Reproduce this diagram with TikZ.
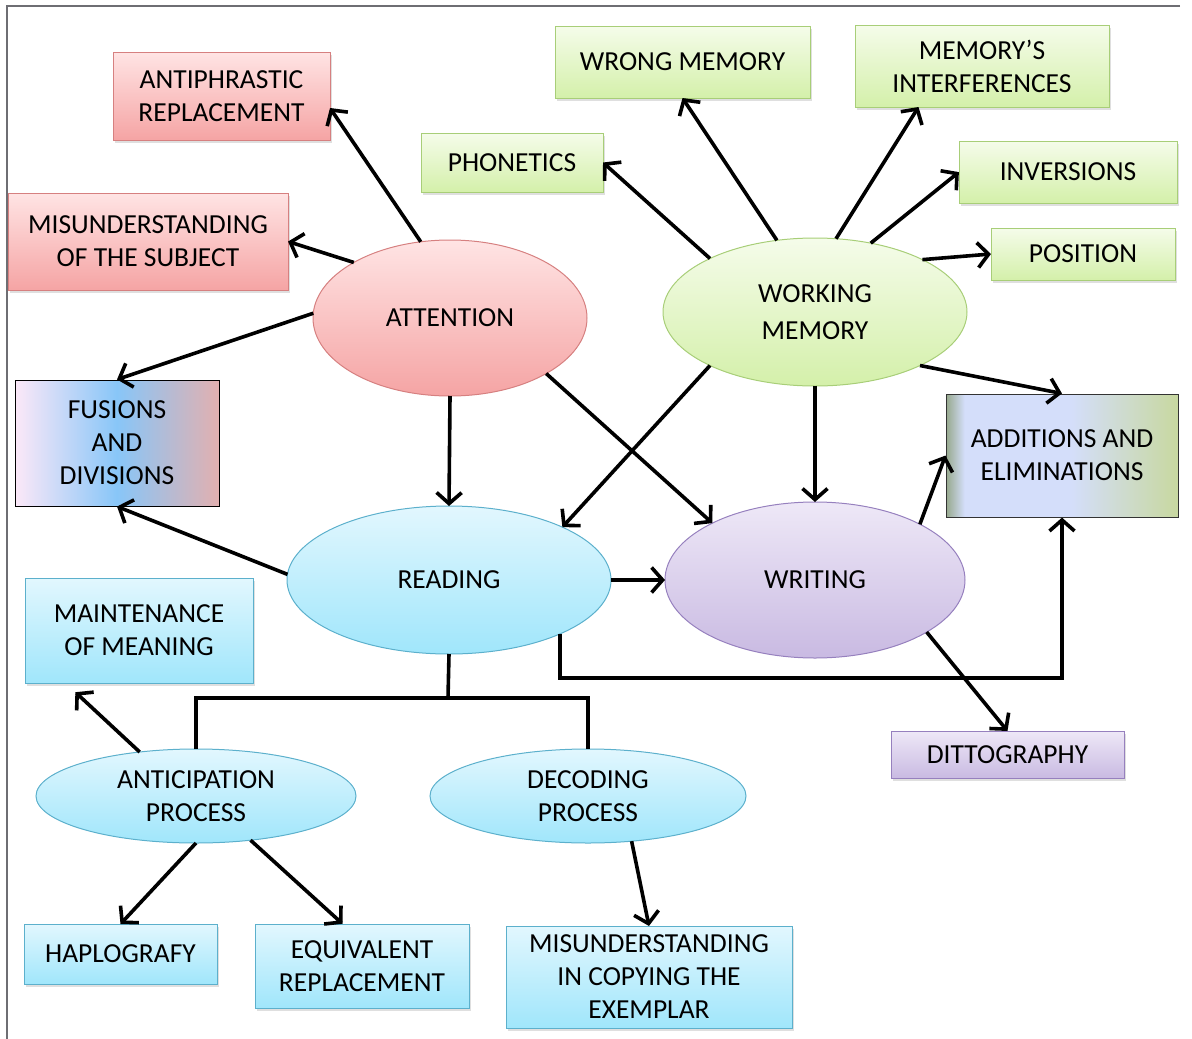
\documentclass[tikz,border=0pt]{standalone}
\usepackage{fontspec}
\setmainfont{Carlito}
\usepackage{xcolor}
\definecolor{redtop}{RGB}{255,228,228}
\definecolor{redbot}{RGB}{245,164,164}
\definecolor{redline}{RGB}{214,128,128}
\definecolor{greentop}{RGB}{245,252,234}
\definecolor{greenbot}{RGB}{212,240,170}
\definecolor{greenline}{RGB}{168,206,120}
\definecolor{cyantop}{RGB}{226,247,254}
\definecolor{cyanbot}{RGB}{160,230,251}
\definecolor{cyanline}{RGB}{92,176,204}
\definecolor{purptop}{RGB}{238,232,247}
\definecolor{purpbot}{RGB}{201,186,226}
\definecolor{purpline}{RGB}{150,128,190}
\definecolor{fusA}{RGB}{252,232,248}
\definecolor{fusB}{RGB}{136,198,248}
\definecolor{fusC}{RGB}{226,176,176}
\definecolor{addA}{RGB}{150,168,140}
\definecolor{addB}{RGB}{212,222,250}
\definecolor{addC}{RGB}{200,216,160}
\definecolor{frame}{RGB}{110,110,115}
\usetikzlibrary{positioning, calc, shapes.geometric, arrows.meta,
        decorations.markings, shadows}
\pgfdeclarehorizontalshading{addshade}{100bp}{color(0bp)=(addA); color(25bp)=(addA);
        color(29bp)=(addB); color(52bp)=(addB); color(75bp)=(addC); color(100bp)=(addC)}
\tikzstyle{Arrow} = [
line width=3.6pt,
decoration={
markings,
mark=at position 0.9999 with {
\arrow[line width=3.6pt]{Straight Barb[length=11pt,width=25pt]}}},
shorten >= 2pt, preaction = {decorate}]
\tikzstyle{Line} = [line width=3.6pt]
\tikzstyle{Box} = [rectangle, inner sep=0pt, outer sep=0pt, align=center,
line width=1pt,
drop shadow={shadow xshift=1.5pt, shadow yshift=-3pt, opacity=0.25}]
\tikzstyle{Oval} = [ellipse, inner sep=0pt, outer sep=0pt, align=center,
line width=1pt]
\tikzstyle{Red} = [draw=redline, top color=redtop, bottom color=redbot]
\tikzstyle{Green} = [draw=greenline, top color=greentop, bottom color=greenbot]
\tikzstyle{Cyan} = [draw=cyanline, top color=cyantop, bottom color=cyanbot]
\tikzstyle{Purple} = [draw=purpline, top color=purptop, bottom color=purpbot]

\begin{document}
\begin{tikzpicture}[x=1pt, y=-1pt, font=\fontsize{27.5}{33}\selectfont]
    \useasboundingbox (0,0) rectangle (1192,1039);
    \draw[frame, line width=1.2pt] (1180,6) -- (7,6) -- (7,1039);

    % main ovals
    \node[Oval, Red, minimum width=274pt, minimum height=156pt] (1) at (450,318) {ATTENTION};
    \node[Oval, Green, minimum width=304pt, minimum height=148pt] (2) at (815,312) {WORKING\\[4pt]MEMORY};
    \node[Oval, Cyan, minimum width=324pt, minimum height=148pt] (3) at (449,580) {READING};
    \node[Oval, Purple, minimum width=300pt, minimum height=156pt] (4) at (815,580) {WRITING};
    \node[Oval, Cyan, minimum width=320pt, minimum height=94pt] (5) at (196,796) {ANTICIPATION\\PROCESS};
    \node[Oval, Cyan, minimum width=316pt, minimum height=94pt] (6) at (588,796) {DECODING\\PROCESS};

    % boxes
    \node[Box, Red, minimum width=217pt, minimum height=88pt] (7) at (221.5,96) {ANTIPHRASTIC\\REPLACEMENT};
    \node[Box, Red, minimum width=280pt, minimum height=97pt] (8) at (148,241.5) {MISUNDERSTANDING\\OF THE SUBJECT};
    \node[rectangle, draw=black, line width=1pt, left color=fusA, right color=fusC, middle color=fusB,
        minimum width=204pt, minimum height=126pt, align=center] (9) at (117,443) {FUSIONS\\AND\\DIVISIONS};
    \node[Box, Green, minimum width=255pt, minimum height=72pt] (10) at (682.5,62) {WRONG MEMORY};
    \node[Box, Green, minimum width=254pt, minimum height=82pt] (11) at (982,66) {MEMORY'S\\INTERFERENCES};
    \node[Box, Green, minimum width=182pt, minimum height=59pt] (12) at (512,162.5) {PHONETICS};
    \node[Box, Green, minimum width=218pt, minimum height=62pt] (13) at (1068,172) {INVERSIONS};
    \node[Box, Green, minimum width=184pt, minimum height=52pt] (14) at (1083,254) {POSITION};
    \node[rectangle, draw=black!80, line width=1pt, shading=addshade,
        minimum width=232pt, minimum height=123pt, align=center] (15) at (1062,455.5) {ADDITIONS AND\\ELIMINATIONS};
    \node[Box, Cyan, minimum width=228pt, minimum height=105pt] (16) at (139,630.5) {MAINTENANCE\\OF MEANING};
    \node[Box, Purple, minimum width=233pt, minimum height=47pt] (17) at (1007.5,754.5) {DITTOGRAPHY};
    \node[Box, Cyan, minimum width=193pt, minimum height=60pt] (18) at (120.5,954) {HAPLOGRAFY};
    \node[Box, Cyan, minimum width=214pt, minimum height=84pt] (19) at (362,966) {EQUIVALENT\\REPLACEMENT};
    \node[Box, Cyan, minimum width=286pt, minimum height=102pt] (20) at (649,977) {MISUNDERSTANDING\\IN COPYING THE\\EXEMPLAR};

    \coordinate (c1) at (1062,678);
    \coordinate (c2) at (448,698);

    \draw[Arrow] (1.111) -- ($(7.east)+(0,12)$);
    \draw[Arrow] (1.150) -- (8.east);
    \draw[Arrow] (1.178) -- (9.north);
    \draw[Arrow] (1.south) -- (3.north);
    \draw[Arrow] (1.330) -- (4.151);
    \draw[Arrow] (2.153) -- (12.east);
    \draw[Arrow] (2.118) -- (10.south);
    \draw[Arrow] (2.74) -- ($(11.south west)!0.25!(11.south east)$);
    \draw[Arrow] (2.51) -- (13.west);
    \draw[Arrow] (2.26) -- (14.west);
    \draw[Arrow] (2.333) -- (15.north);
    \draw[Arrow] (2.207) -- (3.25);
    \draw[Arrow] (2.south) -- (4.north);
    \draw[Arrow] (3.178) -- (9.south);
    \draw[Arrow] (3.east) -- (4.west);
    \draw[Arrow] (4.28) -- (15.west);
    \draw[Arrow] (3.334) |- (c1) -- (15.south);
    \draw[Arrow] (4.335) -- (17.north);
    \draw[Line] (3.south) -- (c2);
    \draw[Line] (5.north) -- (5.north |- c2) -| (6.north);
    \draw[Arrow] (5.142) -- ($(16.south west)!0.22!(16.south east)+(0,9)$);
    \draw[Arrow] (5.south) -- (18.north);
    \draw[Arrow] (5.321) -- ($(19.north west)!0.41!(19.north east)$);
    \draw[Arrow] (6.314) -- (20.north);
\end{tikzpicture}
\end{document}
